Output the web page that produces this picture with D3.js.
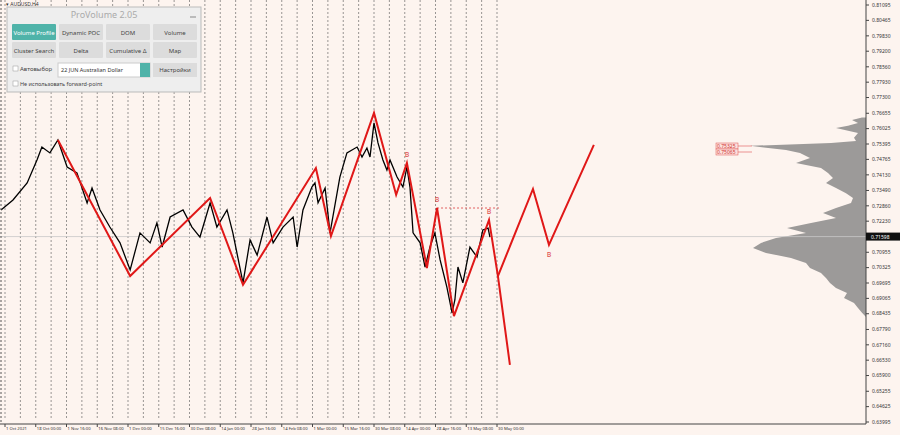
<!DOCTYPE html>
<html><head><meta charset="utf-8">
<script src="https://cdn.jsdelivr.net/npm/d3@7"></script>
<style>body{margin:0;background:#fdf4ef}svg{display:block;font-family:"Noto Sans",sans-serif}</style>
</head><body><div id="chart"></div>
<script>
// time in "label units": 0 = 1 Oct 2021, each unit = one date label
var dateLabels = ["1 Oct 2021","18 Oct 00:00","1 Nov 16:00","16 Nov 08:00","1 Dec 00:00","15 Dec 16:00","30 Dec 08:00","14 Jan 00:00","28 Jan 16:00","14 Feb 08:00","1 Mar 00:00","15 Mar 16:00","30 Mar 08:00","14 Apr 00:00","28 Apr 16:00","13 May 08:00","30 May 00:00"]
var priceTicks = [0.81095,0.80465,0.79830,0.79200,0.78560,0.77930,0.77300,0.76655,0.76025,0.75395,0.74765,0.74130,0.73490,0.72860,0.72230,0.70955,0.70325,0.69695,0.69065,0.68435,0.67790,0.67160,0.66530,0.65900,0.65255,0.64625,0.63995]
var lastPrice = 0.71598

var priceT = [-0.13,0.26,0.72,1.04,1.20,1.46,1.72,2.02,2.34,2.67,2.83,3.09,3.41,3.74,4.07,4.39,4.72,4.94,5.11,5.37,5.79,6.08,6.34,6.67,6.89,7.22,7.41,7.74,7.97,8.20,8.52,8.72,9.04,9.37,9.50,9.69,9.98,10.08,10.18,10.41,10.57,10.89,11.12,11.45,11.61,11.77,11.87,12.00,12.13,12.29,12.42,12.52,12.75,12.94,13.07,13.17,13.27,13.50,13.66,13.82,13.98,14.15,14.37,14.54,14.63,14.73,14.89,15.12,15.35,15.54,15.71,15.77]
var priceV = [0.7269,0.7310,0.7380,0.7474,0.7527,0.7503,0.7556,0.7445,0.7421,0.7298,0.7359,0.7269,0.7199,0.7134,0.7023,0.7175,0.7134,0.7216,0.7117,0.7240,0.7269,0.7199,0.7158,0.7298,0.7199,0.7269,0.7175,0.6970,0.7146,0.7084,0.7240,0.7134,0.7199,0.7240,0.7117,0.7269,0.7363,0.7380,0.7298,0.7359,0.7175,0.7404,0.7503,0.7527,0.7486,0.7523,0.7486,0.7626,0.7544,0.7474,0.7433,0.7474,0.7404,0.7363,0.7445,0.7363,0.7175,0.7134,0.7035,0.7117,0.7175,0.7064,0.6953,0.6847,0.6900,0.7035,0.6970,0.7117,0.7076,0.7187,0.7195,0.7158]

var zigT = [1.72,4.07,6.67,7.74,10.11,10.60,12.00,12.72,13.07,13.72,14.05,14.60,15.74,16.03,16.42]
var zigV = [0.7556,0.6998,0.7318,0.6962,0.7441,0.7162,0.7667,0.7331,0.7462,0.7031,0.7277,0.6834,0.7228,0.6998,0.6634]
var projT = [16.03,17.17,17.69,19.15]
var projV = [0.6998,0.7355,0.7126,0.7536]
var markT = [13.07,14.05,15.74,17.69]
var markV = [0.7462,0.7277,0.7228,0.7126]
var levelT = [14.05,16.1], levelV = 0.7277

// volume profile: price, width
var profP = [0.7648,0.7638,0.7626,0.7614,0.7605,0.7585,0.7565,0.7552,0.7544,0.7532,0.7524,0.7515,0.7503,0.7482,0.7462,0.7441,0.7421,0.7400,0.7380,0.7359,0.7338,0.7318,0.7298,0.7277,0.7257,0.7236,0.7216,0.7195,0.7175,0.7154,0.7134,0.7113,0.7093,0.7072,0.7052,0.7031,0.7010,0.6990,0.6970,0.6949,0.6929,0.6908,0.6888,0.6867,0.6847,0.6830]
var profW = [4,14,8,18,30,8,12,10,35,116,100,80,66,56,70,45,38,33,40,30,20,13,15,30,43,30,55,79,60,90,105,113,100,75,60,56,45,40,36,30,19,22,12,8,4,0]
var levelLabels = ["0.75325","0.75065"]

var W = 900, H = 435, right = 866
var x = d3.scaleLinear().domain([0, 16]).range([5, 497])
var y = d3.scaleLinear().domain([0.63995, 0.81095]).range([422, 5])

var svg = d3.select("#chart").append("svg").attr("width", W).attr("height", H)
svg.append("rect").attr("width", W).attr("height", H).attr("fill", "#fdf4ef")

// dashed verticals
svg.append("g").selectAll("line").data(d3.range(0, 16.01, 0.5)).join("line")
  .attr("x1", d => x(d)).attr("x2", d => x(d)).attr("y1", 0).attr("y2", 420)
  .attr("stroke", "#555").attr("stroke-dasharray", "2,2").attr("stroke-width", 0.6)

// volume profile
var area = d3.area()
  .y(d => y(d[0])).x0(right).x1(d => right - d[1])
svg.append("path").datum(profP.map((p, i) => [p, profW[i]]))
  .attr("d", area).attr("fill", "#9c9a99")

// last price line
svg.append("line").attr("x1", 0).attr("x2", right).attr("y1", y(lastPrice)).attr("y2", y(lastPrice))
  .attr("stroke", "#c8c8c8").attr("stroke-width", 0.8)

// price
var line = d3.line().x(d => x(d[0])).y(d => y(d[1]))
svg.append("path").datum(priceT.map((t, i) => [t, priceV[i]]))
  .attr("d", line).attr("fill", "none").attr("stroke", "#000").attr("stroke-width", 1.3)

// level
svg.append("line").attr("x1", x(levelT[0])).attr("x2", x(levelT[1])).attr("y1", y(levelV)).attr("y2", y(levelV))
  .attr("stroke", "#e06060").attr("stroke-dasharray", "2,2")

// zigzag
svg.append("path").datum(zigT.map((t, i) => [t, zigV[i]]))
  .attr("d", line).attr("fill", "none").attr("stroke", "#e01818").attr("stroke-width", 2)
svg.append("path").datum(projT.map((t, i) => [t, projV[i]]))
  .attr("d", line).attr("fill", "none").attr("stroke", "#e01818").attr("stroke-width", 2)
svg.selectAll(".mk").data(markT).join("text")
  .attr("x", d => x(d)).attr("y", (d, i) => y(markV[i]) + (i == 3 ? 12 : -6))
  .attr("text-anchor", "middle").attr("font-size", 8).attr("fill", "#e05050").text("в")

// level labels near profile
levelLabels.forEach((t, i) => {
  var yy = 146 + i * 6
  svg.append("rect").attr("x", 716).attr("y", yy - 3).attr("width", 22).attr("height", 6)
    .attr("fill", "#fbe0dc").attr("stroke", "#e05050").attr("stroke-width", 0.5)
  svg.append("text").attr("x", 717).attr("y", yy + 2).attr("font-size", 5).attr("fill", "#d03030").text(t)
  svg.append("line").attr("x1", 738).attr("x2", 752).attr("y1", yy).attr("y2", yy).attr("stroke", "#e05050").attr("stroke-width", 0.6)
})

// right axis
svg.append("line").attr("x1", right).attr("x2", right).attr("y1", 0).attr("y2", 424).attr("stroke", "#444")
svg.append("line").attr("x1", 0).attr("x2", right).attr("y1", 424).attr("y2", 424).attr("stroke", "#444")
var ya = svg.append("g").selectAll("g").data(priceTicks).join("g").attr("transform", d => `translate(${right},${y(d)})`)
ya.append("line").attr("x2", 3).attr("stroke", "#444")
ya.append("text").attr("x", 6).attr("dy", "0.35em").attr("font-size", 5).attr("fill", "#333").text(d => d.toFixed(5))
svg.append("rect").attr("x", right).attr("y", y(lastPrice) - 4).attr("width", 34).attr("height", 8).attr("fill", "#111")
svg.append("text").attr("x", right + 5).attr("y", y(lastPrice) + 2).attr("font-size", 5).attr("fill", "#fff").text(lastPrice.toFixed(5))

// bottom axis
var xa = svg.append("g").selectAll("g").data(dateLabels).join("g").attr("transform", (d, i) => `translate(${x(i)},424)`)
xa.append("line").attr("y2", 3).attr("stroke", "#444")
xa.append("text").attr("x", 1).attr("y", 6).attr("font-size", 4.2).attr("fill", "#333").text(d => d)
svg.append("line").attr("x1", 1).attr("x2", 1).attr("y1", 0).attr("y2", 424).attr("stroke", "#555").attr("stroke-dasharray", "2,2")
svg.append("text").attr("x", 6).attr("y", 6).attr("font-size", 5).attr("fill", "#333").text("▾ AUDUSD,H4")

// ProVolume panel
var p = svg.append("g")
p.append("rect").attr("x", 7).attr("y", 7).attr("width", 194).attr("height", 85).attr("fill", "#eeeeee").attr("stroke", "#bbb")
p.append("text").attr("x", 104).attr("y", 18).attr("text-anchor", "middle").attr("font-size", 9).attr("fill", "#aaa").text("ProVolume 2.05")
p.append("line").attr("x1", 190).attr("x2", 196).attr("y1", 17).attr("y2", 17).attr("stroke", "#888")
var btns = [["Volume Profile", "Dynamic POC", "DOM", "Volume"], ["Cluster Search", "Delta", "Cumulative Δ", "Map"]]
btns.forEach((row, r) => row.forEach((b, c) => {
  var bx = 12 + c * 47, by = 24 + r * 18
  p.append("rect").attr("x", bx).attr("y", by).attr("width", 44).attr("height", 16).attr("rx", 1)
    .attr("fill", r == 0 && c == 0 ? "#4fb3a9" : "#dcdcdc")
  p.append("text").attr("x", bx + 22).attr("y", by + 10.5).attr("text-anchor", "middle").attr("font-size", 6)
    .attr("fill", r == 0 && c == 0 ? "#fff" : "#444").text(b)
}))
p.append("rect").attr("x", 13).attr("y", 66).attr("width", 5).attr("height", 5).attr("fill", "#fff").attr("stroke", "#999").attr("stroke-width", 0.5)
p.append("text").attr("x", 20).attr("y", 71).attr("font-size", 6).attr("fill", "#444").text("Автовыбор")
p.append("rect").attr("x", 58).attr("y", 63).attr("width", 92).attr("height", 14).attr("fill", "#fff").attr("stroke", "#ccc")
p.append("rect").attr("x", 140).attr("y", 63).attr("width", 10).attr("height", 14).attr("fill", "#4fb3a9")
p.append("text").attr("x", 61).attr("y", 72).attr("font-size", 5.5).attr("fill", "#333").text("22 JUN Australian Dollar")
p.append("rect").attr("x", 153).attr("y", 63).attr("width", 44).attr("height", 14).attr("fill", "#dcdcdc")
p.append("text").attr("x", 175).attr("y", 72).attr("text-anchor", "middle").attr("font-size", 6).attr("fill", "#444").text("Настройки")
p.append("rect").attr("x", 13).attr("y", 81).attr("width", 5).attr("height", 5).attr("fill", "#fff").attr("stroke", "#999").attr("stroke-width", 0.5)
p.append("text").attr("x", 20).attr("y", 86).attr("font-size", 5.5).attr("fill", "#444").text("Не использовать forward-point")
</script></body></html>
